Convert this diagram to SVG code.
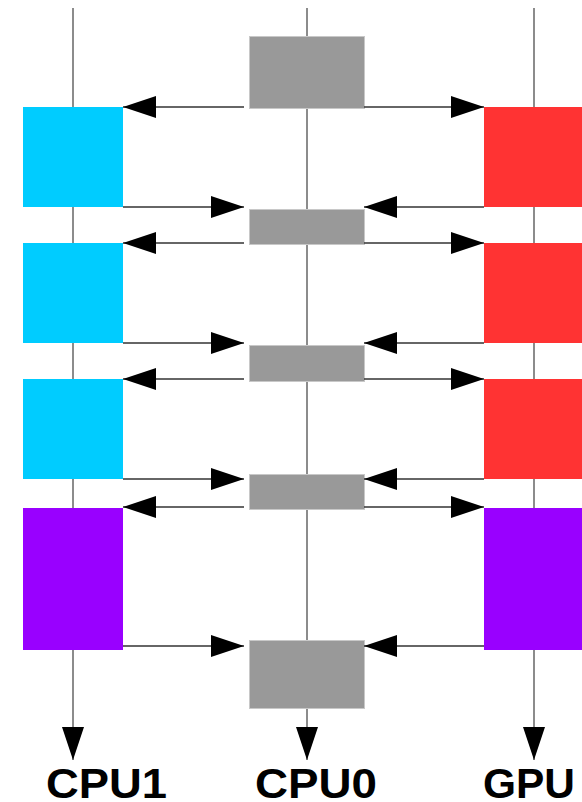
<svg xmlns="http://www.w3.org/2000/svg" width="582" height="802" viewBox="0 0 582 802">
  <style>
    .lane { stroke: #666666; stroke-width: 1.5; fill: none; }
    .msg { stroke: #333333; stroke-width: 1.5; fill: none; }
    .cpu1 { fill: #00CCFF; }
    .gpu { fill: #FF3333; }
    .sync { fill: #9900FF; }
    .cpu0 { fill: #999999; stroke: #C8C8C8; stroke-width: 1; }
    .label { font-family: "Liberation Sans", Arial, sans-serif; font-weight: bold; font-size: 42px; fill: #000000; }
  </style>
  <defs>
    <marker id="head" viewBox="0 0 33 22" refX="33" refY="11" markerWidth="33" markerHeight="22" markerUnits="userSpaceOnUse" orient="auto">
      <path d="M0,0 L33,11 L0,22 Z" fill="#000000"/>
    </marker>
  </defs>

  <!-- timelines -->
  <g id="lanes">
    <line class="lane" x1="73" y1="8" x2="73" y2="760" marker-end="url(#head)"/>
    <line class="lane" x1="307" y1="8" x2="307" y2="760" marker-end="url(#head)"/>
    <line class="lane" x1="534" y1="8" x2="534" y2="760" marker-end="url(#head)"/>
  </g>

  <!-- CPU1 tasks -->
  <g id="cpu1-task1"><rect class="cpu1" x="23" y="107" width="100" height="100"/></g>
  <g id="cpu1-task2"><rect class="cpu1" x="23" y="243" width="100" height="100"/></g>
  <g id="cpu1-task3"><rect class="cpu1" x="23" y="379" width="100" height="100"/></g>
  <g id="cpu1-final"><rect class="sync" x="23" y="508" width="100" height="142"/></g>

  <!-- GPU tasks -->
  <g id="gpu-task1"><rect class="gpu" x="484" y="107" width="98" height="100"/></g>
  <g id="gpu-task2"><rect class="gpu" x="484" y="243" width="98" height="100"/></g>
  <g id="gpu-task3"><rect class="gpu" x="484" y="379" width="98" height="100"/></g>
  <g id="gpu-final"><rect class="sync" x="484" y="508" width="98" height="142"/></g>

  <!-- CPU0 coordination steps -->
  <g id="cpu0-start"><rect class="cpu0" x="249.5" y="36.5" width="115" height="72"/></g>
  <g id="cpu0-sync1"><rect class="cpu0" x="249.5" y="209.5" width="115" height="35"/></g>
  <g id="cpu0-sync2"><rect class="cpu0" x="249.5" y="345.5" width="115" height="36"/></g>
  <g id="cpu0-sync3"><rect class="cpu0" x="249.5" y="474.5" width="115" height="35"/></g>
  <g id="cpu0-end"><rect class="cpu0" x="249.5" y="640.5" width="115" height="68"/></g>

  <!-- messages -->
  <g id="connectors">
    <line class="msg" x1="244" y1="107" x2="123" y2="107" marker-end="url(#head)"/>
    <line class="msg" x1="364" y1="107" x2="484" y2="107" marker-end="url(#head)"/>

    <line class="msg" x1="123" y1="207" x2="244" y2="207" marker-end="url(#head)"/>
    <line class="msg" x1="484" y1="207" x2="364" y2="207" marker-end="url(#head)"/>
    <line class="msg" x1="244" y1="243" x2="123" y2="243" marker-end="url(#head)"/>
    <line class="msg" x1="364" y1="243" x2="484" y2="243" marker-end="url(#head)"/>

    <line class="msg" x1="123" y1="343" x2="244" y2="343" marker-end="url(#head)"/>
    <line class="msg" x1="484" y1="343" x2="364" y2="343" marker-end="url(#head)"/>
    <line class="msg" x1="244" y1="379" x2="123" y2="379" marker-end="url(#head)"/>
    <line class="msg" x1="364" y1="379" x2="484" y2="379" marker-end="url(#head)"/>

    <line class="msg" x1="123" y1="479" x2="244" y2="479" marker-end="url(#head)"/>
    <line class="msg" x1="484" y1="479" x2="364" y2="479" marker-end="url(#head)"/>
    <line class="msg" x1="244" y1="507" x2="123" y2="507" marker-end="url(#head)"/>
    <line class="msg" x1="364" y1="507" x2="484" y2="507" marker-end="url(#head)"/>

    <line class="msg" x1="123" y1="646" x2="244" y2="646" marker-end="url(#head)"/>
    <line class="msg" x1="484" y1="646" x2="364" y2="646" marker-end="url(#head)"/>
  </g>

  <!-- lane labels -->
  <g id="labels">
    <text class="label" x="46" y="798" textLength="121" lengthAdjust="spacingAndGlyphs">CPU1</text>
    <text class="label" x="255" y="798" textLength="122" lengthAdjust="spacingAndGlyphs">CPU0</text>
    <text class="label" x="483" y="798" textLength="92" lengthAdjust="spacingAndGlyphs">GPU</text>
  </g>
</svg>
